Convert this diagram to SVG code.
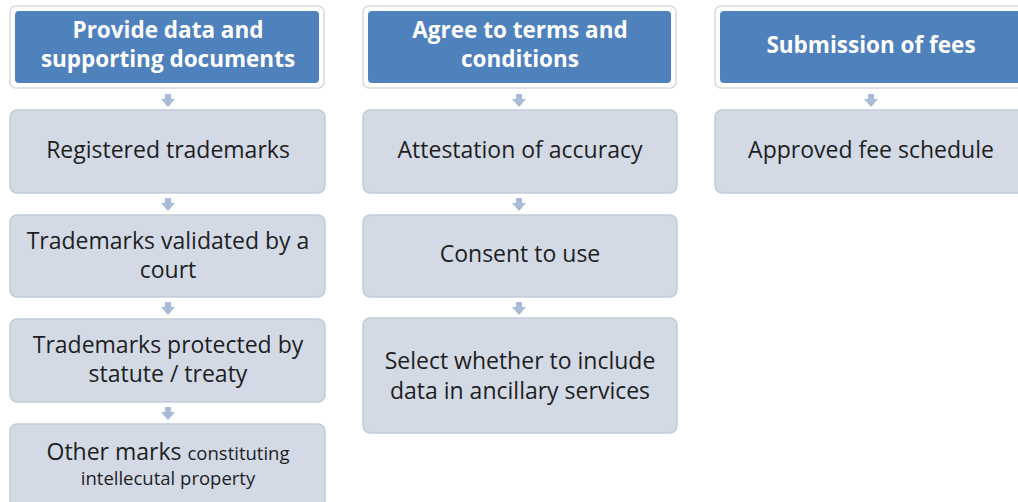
<svg xmlns="http://www.w3.org/2000/svg" width="1018" height="502" viewBox="0 0 1018 502">
<style>
.outer{fill:#ffffff;stroke:#d6d9de;stroke-width:1.5}
.head{fill:#4f81bd}
.box{fill:#d3dae6;stroke:#c3cbd8;stroke-width:1.5}
.ht{font-family:"Open Sans","Liberation Sans",Arial,sans-serif;font-weight:bold;font-size:22.5px;fill:#ffffff;text-anchor:middle}
.bt{font-family:"Open Sans","Liberation Sans",Arial,sans-serif;font-size:23px;fill:#1e1e1e;text-anchor:middle}
.sm{font-size:18.5px}
.arr{fill:#a7bad7}
</style>
<rect width="1018" height="502" fill="#ffffff"/>
<g id="connectors">
<path class="arr" d="M165,94h6v5h4l-7,8l-7,-8h4z"/>
<path class="arr" d="M165,198h6v5h4l-7,8l-7,-8h4z"/>
<path class="arr" d="M165,302h6v5h4l-7,8l-7,-8h4z"/>
<path class="arr" d="M165,407h6v5h4l-7,8l-7,-8h4z"/>
<path class="arr" d="M516,94h6v5h4l-7,8l-7,-8h4z"/>
<path class="arr" d="M516,198h6v5h4l-7,8l-7,-8h4z"/>
<path class="arr" d="M516,302h6v5h4l-7,8l-7,-8h4z"/>
<path class="arr" d="M868,94h6v5h4l-7,8l-7,-8h4z"/>
</g>
<g id="h1"><rect class="outer" x="10" y="6" width="314" height="82" rx="6"/><rect class="head" x="15" y="11" width="304" height="72" rx="4"/>
<text class="ht" x="168" y="38">Provide data and</text><text class="ht" x="168" y="67">supporting documents</text></g>
<g id="n1"><rect class="box" x="10" y="110" width="315" height="83" rx="7"/><text class="bt" x="168" y="158">Registered trademarks</text></g>
<g id="n2"><rect class="box" x="10" y="215" width="315" height="82" rx="7"/><text class="bt" x="168" y="249">Trademarks validated by a</text><text class="bt" x="168" y="278">court</text></g>
<g id="n3"><rect class="box" x="10" y="319" width="315" height="83" rx="7"/><text class="bt" x="168" y="353">Trademarks protected by</text><text class="bt" x="168" y="382">statute / treaty</text></g>
<g id="n4"><rect class="box" x="10" y="424" width="315" height="90" rx="7"/><text class="bt" x="168" y="460">Other marks <tspan class="sm">constituting</tspan></text><text class="bt sm" x="168" y="485">intellecutal property</text></g>
<g id="h2"><rect class="outer" x="363" y="6" width="313" height="82" rx="6"/><rect class="head" x="368" y="11" width="303" height="72" rx="4"/>
<text class="ht" x="520" y="38">Agree to terms and</text><text class="ht" x="520" y="67">conditions</text></g>
<g id="m1"><rect class="box" x="363" y="110" width="314" height="83" rx="7"/><text class="bt" x="520" y="158">Attestation of accuracy</text></g>
<g id="m2"><rect class="box" x="363" y="215" width="314" height="82" rx="7"/><text class="bt" x="520" y="262">Consent to use</text></g>
<g id="m3"><rect class="box" x="363" y="318" width="314" height="115" rx="7"/><text class="bt" x="520" y="369">Select whether to include</text><text class="bt" x="520" y="398.5">data in ancillary services</text></g>
<g id="h3"><rect class="outer" x="715" y="6" width="320" height="82" rx="6"/><rect class="head" x="720" y="11" width="310" height="72" rx="4"/>
<text class="ht" x="871" y="53">Submission of fees</text></g>
<g id="k1"><rect class="box" x="715" y="110" width="320" height="83" rx="7"/><text class="bt" x="871" y="158">Approved fee schedule</text></g>
</svg>
